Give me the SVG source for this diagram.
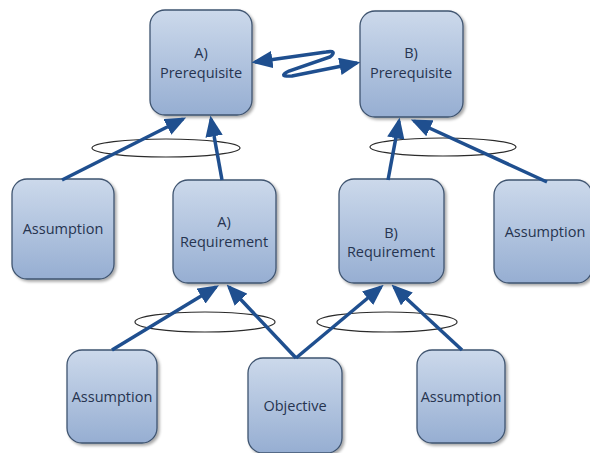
<svg xmlns="http://www.w3.org/2000/svg" width="590" height="453" viewBox="0 0 590 453">
  <defs>
    <linearGradient id="boxFill" x1="0" y1="0" x2="0" y2="1">
      <stop offset="0" stop-color="#ccd9eb"/>
      <stop offset="1" stop-color="#96aed2"/>
    </linearGradient>
    <filter id="shadow" x="-10%" y="-10%" width="130%" height="130%">
      <feGaussianBlur in="SourceAlpha" stdDeviation="1.5"/>
      <feOffset dx="2" dy="2" result="b"/>
      <feComponentTransfer><feFuncA type="linear" slope="0.35"/></feComponentTransfer>
      <feMerge><feMergeNode/><feMergeNode in="SourceGraphic"/></feMerge>
    </filter>
    <marker id="head" markerWidth="6" markerHeight="5" refX="5" refY="2.5" orient="auto-start-reverse" markerUnits="strokeWidth">
      <path d="M0,0 L6,2.5 L0,5 Z" fill="#1f4f8f"/>
    </marker>
  </defs>
  <style>
    .box { fill: url(#boxFill); stroke: #3f5470; stroke-width: 1.3; filter: url(#shadow); }
    .lbl { font-family: "Open Sans", "Liberation Sans", sans-serif; font-size: 14.5px; fill: #263450; text-anchor: middle; }
    .arrow { stroke: #1f4f8f; stroke-width: 3.5; fill: none; marker-end: url(#head); }
    .ring { fill: none; stroke: #2b2b2b; stroke-width: 1.2; }
  </style>
  <rect width="590" height="453" fill="#ffffff"/>

  <!-- and-groups -->
  <g id="groups">
    <ellipse class="ring" cx="166" cy="148" rx="74" ry="9"/>
    <ellipse class="ring" cx="443" cy="147" rx="73" ry="9"/>
    <ellipse class="ring" cx="205" cy="322" rx="70" ry="10"/>
    <ellipse class="ring" cx="387" cy="322" rx="70" ry="10"/>
  </g>

  <g id="prereq-a">
    <rect class="box" x="150" y="10" width="102" height="105" rx="15"/>
    <text class="lbl" x="201" y="58">A)</text>
    <text class="lbl" x="201" y="78">Prerequisite</text>
  </g>
  <g id="prereq-b">
    <rect class="box" x="360" y="11" width="103" height="106" rx="15"/>
    <text class="lbl" x="411" y="58">B)</text>
    <text class="lbl" x="411" y="78">Prerequisite</text>
  </g>
  <g id="assumption-1">
    <rect class="box" x="12" y="179" width="102" height="100" rx="15"/>
    <text class="lbl" x="63" y="234">Assumption</text>
  </g>
  <g id="requirement-a">
    <rect class="box" x="173" y="180" width="103" height="103" rx="15"/>
    <text class="lbl" x="224" y="227">A)</text>
    <text class="lbl" x="224" y="247">Requirement</text>
  </g>
  <g id="requirement-b">
    <rect class="box" x="339" y="179" width="105" height="104" rx="15"/>
    <text class="lbl" x="391" y="238">B)</text>
    <text class="lbl" x="391" y="257">Requirement</text>
  </g>
  <g id="assumption-2">
    <rect class="box" x="494" y="180" width="98" height="103" rx="15"/>
    <text class="lbl" x="545" y="237">Assumption</text>
  </g>
  <g id="assumption-3">
    <rect class="box" x="67" y="350" width="90" height="93" rx="15"/>
    <text class="lbl" x="112" y="402">Assumption</text>
  </g>
  <g id="objective">
    <rect class="box" x="248" y="358" width="94" height="95" rx="15"/>
    <text class="lbl" x="295" y="411">Objective</text>
  </g>
  <g id="assumption-4">
    <rect class="box" x="417" y="350" width="88" height="93" rx="15"/>
    <text class="lbl" x="461" y="402">Assumption</text>
  </g>

  <g id="connectors">
    <line class="arrow" x1="62" y1="180" x2="183" y2="119"/>
    <line class="arrow" x1="222" y1="180" x2="211" y2="119"/>
    <line class="arrow" x1="388" y1="180" x2="399" y2="121"/>
    <line class="arrow" x1="547" y1="182" x2="414" y2="121"/>
    <line class="arrow" x1="112" y1="350" x2="216" y2="287"/>
    <line class="arrow" x1="296" y1="358" x2="229" y2="287"/>
    <line class="arrow" x1="296" y1="358" x2="381" y2="287"/>
    <line class="arrow" x1="462" y1="350" x2="394" y2="287"/>
    <!-- two-way zigzag link between the prerequisites -->
    <path class="arrow" style="marker-start:url(#head)" d="M255,62 L326,52 Q338,50 330,57 L289,71 Q277,77 292,76 L357,63"/>
  </g>
</svg>
